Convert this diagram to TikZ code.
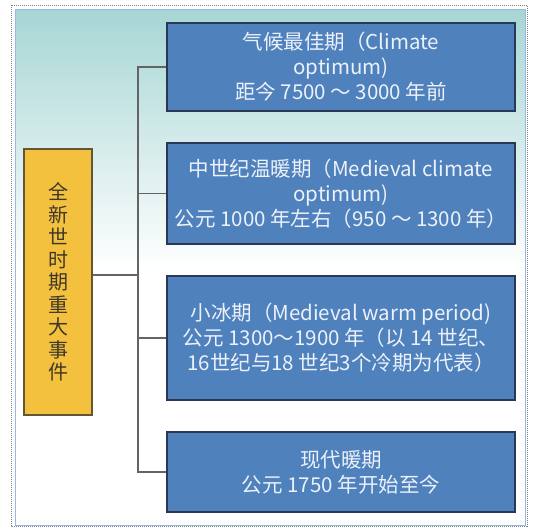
\documentclass[tikz,border=0pt]{standalone}
\usepackage{fontspec}
\setmainfont{Noto Sans CJK SC}
\definecolor{boxblue}{RGB}{79,129,189}
\definecolor{boxedge}{RGB}{42,56,86}
\definecolor{boxtext}{RGB}{236,241,250}
\definecolor{gold}{RGB}{244,193,63}
\definecolor{goldedge}{RGB}{100,86,52}
\definecolor{goldtext}{RGB}{62,56,40}
\definecolor{teal}{RGB}{166,214,212}
\definecolor{frameblue}{RGB}{150,185,230}
\definecolor{linegray}{RGB}{100,100,100}
\tikzset{
  evbox/.style={draw=boxedge, line width=1.2pt, fill=boxblue, text=boxtext,
    minimum width=348pt, align=center, inner sep=0pt,
    font=\fontsize{20.5}{25}\selectfont},
  mainbox/.style={draw=goldedge, line width=1.2pt, fill=gold, text=goldtext,
    minimum width=68pt, minimum height=266pt, align=center, inner sep=0pt,
    font=\fontsize{20}{22.5}\selectfont},
  conn/.style={draw=linegray, line width=1.3pt}
}
\begin{document}
\begin{tikzpicture}[x=1pt,y=-1pt]
\useasboundingbox (0,0) rectangle (544,528);
% background
\fill[white] (0,0) rectangle (544,528);
\shade[top color=teal, bottom color=white] (15,9) rectangle (525,270);
\draw[frameblue, line width=1pt] (15,9) rectangle (525,525);
\draw[gray, line width=1pt, densely dotted] (11,5) rectangle (527,526);
% nodes
\node[mainbox] (main) at (58,282) {全\\新\\世\\时\\期\\重\\大\\事\\件};
\node[evbox, minimum height=88pt] (b1) at (341,67)
  {气候最佳期（Climate\\optimum)\\距今 7500 ～ 3000 年前};
\node[evbox, minimum height=101pt] (b2) at (341,193.5)
  {中世纪温暖期（Medieval climate\\optimum)\\公元 1000 年左右（950 ～ 1300 年）};
\node[evbox, minimum height=124pt] (b3) at (341,338)
  {小冰期（Medieval warm period)\\公元 1300～1900 年（以 14 世纪、\\16世纪与18 世纪3个冷期为代表）};
\node[evbox, minimum height=80pt] (b4) at (341,472)
  {现代暖期\\公元 1750 年开始至今};
\coordinate (j) at (138,275);
% connectors
\draw[conn] (main.east |- j) -- (j);
\draw[conn] (b1.west) -- (b1.west -| j) -- (b4.west -| j) -- (b4.west);
\draw[conn] (b2.west) -- (b2.west -| j);
\draw[conn] (b3.west) -- (b3.west -| j);
\end{tikzpicture}
\end{document}
